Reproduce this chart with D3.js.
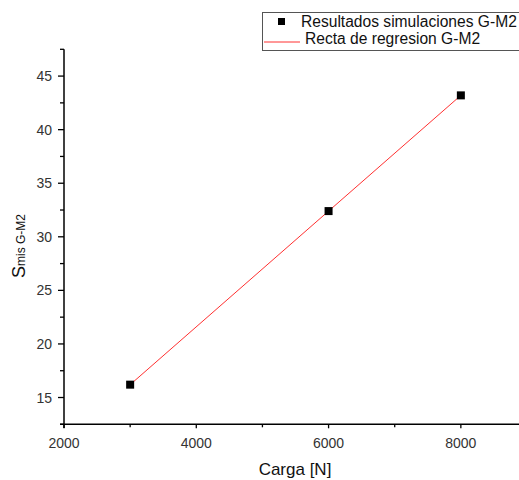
<!DOCTYPE html>
<html>
<head>
<meta charset="utf-8">
<script src="https://cdn.jsdelivr.net/npm/d3@7"></script>
<style>
  body { margin: 0; background: #fff; }
  text { font-family: "Liberation Sans", Arial, sans-serif; }
</style>
</head>
<body>
<div id="chart"></div>
<script>
// datos
var cargas = [3000, 6000, 8000];
var smis = [16.2, 32.4, 43.2];
var xTicks = [2000, 4000, 6000, 8000];
var xMinor = [3000, 5000, 7000, 9000];
var yTicks = [15, 20, 25, 30, 35, 40, 45];
var yMinor = [12.5, 17.5, 22.5, 27.5, 32.5, 37.5, 42.5, 47.5];
var legendLabels = ["Resultados simulaciones G-M2", "Recta de regresion G-M2"];

var width = 519, height = 480;
var svg = d3.select("#chart").append("svg").attr("width", width).attr("height", height);

var x = d3.scaleLinear().domain([2000, 9000]).range([64, 527]);
var y = d3.scaleLinear().domain([12.5, 47.5]).range([424.3, 49.3]);

// ejes
var gx = svg.append("g").attr("transform", "translate(0,424.3)");
gx.append("line").attr("x1", 60).attr("x2", 527).attr("stroke", "#000").attr("stroke-width", 1.5);
gx.selectAll(".maj").data(xTicks).enter().append("line")
  .attr("x1", d => x(d)).attr("x2", d => x(d)).attr("y1", 0).attr("y2", 4)
  .attr("stroke", "#000").attr("stroke-width", 1.3);
gx.selectAll(".min").data(xMinor).enter().append("line")
  .attr("x1", d => x(d)).attr("x2", d => x(d)).attr("y1", 0).attr("y2", 3)
  .attr("stroke", "#000").attr("stroke-width", 1.3);
gx.selectAll(".lbl").data(xTicks).enter().append("text")
  .attr("x", d => x(d)).attr("y", 24).attr("text-anchor", "middle")
  .attr("font-size", 14).attr("fill", "#333").text(d => d);

var gy = svg.append("g").attr("transform", "translate(64,0)");
gy.append("line").attr("y1", y(47.5)).attr("y2", 428).attr("stroke", "#000").attr("stroke-width", 1.5);
gy.selectAll(".maj").data(yTicks).enter().append("line")
  .attr("y1", d => y(d)).attr("y2", d => y(d)).attr("x1", 0).attr("x2", -6)
  .attr("stroke", "#000").attr("stroke-width", 1.3);
gy.selectAll(".min").data(yMinor).enter().append("line")
  .attr("y1", d => y(d)).attr("y2", d => y(d)).attr("x1", 0).attr("x2", -4)
  .attr("stroke", "#000").attr("stroke-width", 1.3);
gy.selectAll(".lbl").data(yTicks).enter().append("text")
  .attr("x", -12).attr("y", d => y(d)).attr("dy", "0.36em").attr("text-anchor", "end")
  .attr("font-size", 14).attr("fill", "#333").text(d => d);

// titulos de ejes
svg.append("text").attr("x", 295).attr("y", 475).attr("text-anchor", "middle")
  .attr("font-size", 17).attr("fill", "#111").text("Carga [N]");
var yl = svg.append("text").attr("transform", "translate(25,246) rotate(-90)")
  .attr("text-anchor", "middle").attr("fill", "#111");
yl.append("tspan").attr("font-size", 18).text("S");
yl.append("tspan").attr("font-size", 12).text("mis G-M2");

// recta de regresion
var line = d3.line().x((d, i) => x(cargas[i])).y(d => y(d));
svg.append("path").attr("d", line(smis)).attr("fill", "none")
  .attr("stroke", "#ff3030").attr("stroke-width", 1);

// puntos
svg.selectAll(".pt").data(smis).enter().append("rect")
  .attr("x", (d, i) => x(cargas[i]) - 4).attr("y", d => y(d) - 4)
  .attr("width", 8).attr("height", 8).attr("fill", "#000");

// leyenda
var lg = svg.append("g");
lg.append("rect").attr("x", 262.5).attr("y", 12.5).attr("width", 270).attr("height", 38)
  .attr("fill", "#fff").attr("stroke", "#555").attr("stroke-width", 1);
lg.append("rect").attr("x", 278).attr("y", 18).attr("width", 7).attr("height", 7).attr("fill", "#000");
lg.append("line").attr("x1", 264).attr("x2", 300).attr("y1", 42).attr("y2", 42)
  .attr("stroke", "#ff3030").attr("stroke-width", 1);
lg.append("text").attr("x", 301).attr("y", 27).attr("font-size", 15.6).attr("fill", "#111").text(legendLabels[0]);
lg.append("text").attr("x", 305).attr("y", 44).attr("font-size", 15.6).attr("fill", "#111").text(legendLabels[1]);
</script>
</body>
</html>
